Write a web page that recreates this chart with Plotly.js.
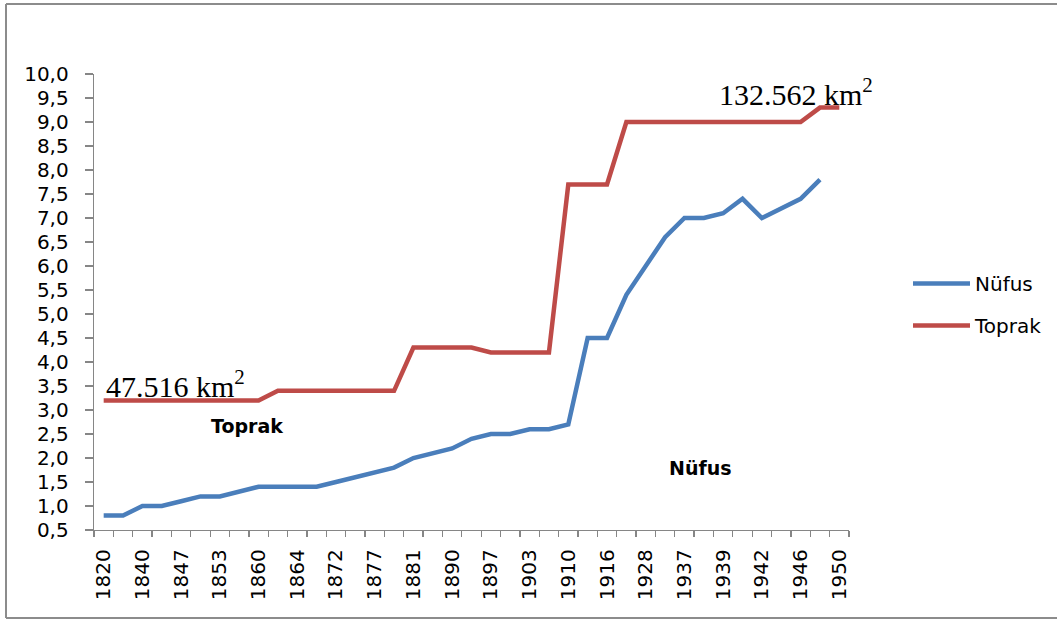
<!DOCTYPE html>
<html>
<head>
<meta charset="utf-8">
<script src="https://cdn.plot.ly/plotly-3.0.1.min.js"></script>
<style>
  html, body { margin: 0; padding: 0; background: #ffffff; }
  #chart { width: 1057px; height: 619px; }
</style>
</head>
<body>
<div id="chart"></div>
<script>
// Year labels shown on the x axis (every second category)
const yearLabels = ['1820','1840','1847','1853','1860','1864','1872','1877','1881','1890',
                    '1897','1903','1910','1916','1928','1937','1939','1942','1946','1950'];

// Series values, one per category (39 categories)
const nufus = [0.8, 0.8, 1.0, 1.0, 1.1, 1.2, 1.2, 1.3, 1.4, 1.4,
               1.4, 1.4, 1.5, 1.6, 1.7, 1.8, 2.0, 2.1, 2.2, 2.4,
               2.5, 2.5, 2.6, 2.6, 2.7, 4.5, 4.5, 5.4, 6.0, 6.6,
               7.0, 7.0, 7.1, 7.4, 7.0, 7.2, 7.4, 7.8, null];
const toprak = [3.2, 3.2, 3.2, 3.2, 3.2, 3.2, 3.2, 3.2, 3.2, 3.4,
                3.4, 3.4, 3.4, 3.4, 3.4, 3.4, 4.3, 4.3, 4.3, 4.3,
                4.2, 4.2, 4.2, 4.2, 7.7, 7.7, 7.7, 9.0, 9.0, 9.0,
                9.0, 9.0, 9.0, 9.0, 9.0, 9.0, 9.0, 9.3, 9.3];

const seriesNames = ['Nüfus', 'Toprak'];
const startLabel = '47.516 km<sup>2</sup>';
const endLabel = '132.562 km<sup>2</sup>';

const xIdx = nufus.map((_, i) => i);
const tickVals = yearLabels.map((_, i) => i * 2);

const blue = '#4a7ebb';
const red = '#be4b48';
const axisGrey = '#868686';
const frameGrey = '#8c8c8c';

const traces = [
  { x: xIdx, y: nufus, name: seriesNames[0], type: 'scatter', mode: 'lines',
    line: { color: blue, width: 4.5 }, legendgroup: 'a', connectgaps: false },
  { x: xIdx, y: toprak, name: seriesNames[1], type: 'scatter', mode: 'lines',
    line: { color: red, width: 4.5 }, legendgroup: 'b' }
];

const L = 94, R = 849, T = 74, B = 530;
const W = R - L, H = B - T;
const px = v => (v - L) / W;
const py = v => (B - v) / H;

const tickFont = { family: 'DejaVu Sans, sans-serif', size: 20, color: '#000000' };
const serifFont = { family: 'Liberation Serif, serif', size: 30, color: '#000000' };
const boldFont = { family: 'DejaVu Sans, sans-serif', size: 19, color: '#000000' };

function frameLine(x0, y0, x1, y1) {
  return { type: 'line', xref: 'paper', yref: 'paper',
           x0: px(x0), y0: py(y0), x1: px(x1), y1: py(y1),
           line: { color: frameGrey, width: 2 }, layer: 'below' };
}

const layout = {
  width: 1057, height: 619,
  margin: { l: L, r: 1057 - R, t: T, b: 619 - B, pad: 0, autoexpand: false },
  paper_bgcolor: '#ffffff', plot_bgcolor: '#ffffff',
  separators: ',.',
  font: tickFont,
  showlegend: true,
  legend: {
    x: px(908), y: py(264), xanchor: 'left', yanchor: 'top',
    font: { family: 'DejaVu Sans, sans-serif', size: 20, color: '#000000' },
    itemwidth: 57, tracegroupgap: 13, bgcolor: 'rgba(0,0,0,0)'
  },
  xaxis: {
    range: [-0.5, 38.5], showgrid: false, zeroline: false,
    showline: true, linecolor: axisGrey, linewidth: 1.3,
    tickmode: 'array', tickvals: tickVals, ticktext: yearLabels,
    ticks: '', tickangle: -90, ticklabelstandoff: 10,
    tickfont: tickFont,
    minor: { tickmode: 'linear', tick0: -0.5, dtick: 1, ticks: 'outside', ticklen: 6,
             tickcolor: axisGrey, tickwidth: 1.3, showgrid: false }
  },
  yaxis: {
    range: [0.5, 10], showgrid: false, zeroline: false,
    showline: true, linecolor: axisGrey, linewidth: 1.3,
    tickmode: 'linear', tick0: 0.5, dtick: 0.5, tickformat: '.1f',
    ticks: 'outside', ticklen: 8, tickcolor: axisGrey, tickwidth: 1.3,
    ticklabelstandoff: 12,
    tickfont: tickFont
  },
  annotations: [
    { text: startLabel, xref: 'paper', yref: 'paper', x: px(104), y: py(384),
      xanchor: 'left', yanchor: 'middle', showarrow: false, font: serifFont },
    { text: endLabel, xref: 'paper', yref: 'paper', x: px(717), y: py(92),
      xanchor: 'left', yanchor: 'middle', showarrow: false, font: serifFont },
    { text: '<b>' + seriesNames[1] + '</b>', xref: 'paper', yref: 'paper', x: px(247), y: py(426),
      xanchor: 'center', yanchor: 'middle', showarrow: false, font: boldFont },
    { text: '<b>' + seriesNames[0] + '</b>', xref: 'paper', yref: 'paper', x: px(700), y: py(468),
      xanchor: 'center', yanchor: 'middle', showarrow: false, font: boldFont }
  ],
  shapes: [
    frameLine(6, 4, 1057, 4),
    frameLine(6, 4, 6, 618),
    frameLine(6, 618, 1057, 618)
  ]
};

Plotly.newPlot('chart', traces, layout, { displayModeBar: false, staticPlot: true });
</script>
</body>
</html>
